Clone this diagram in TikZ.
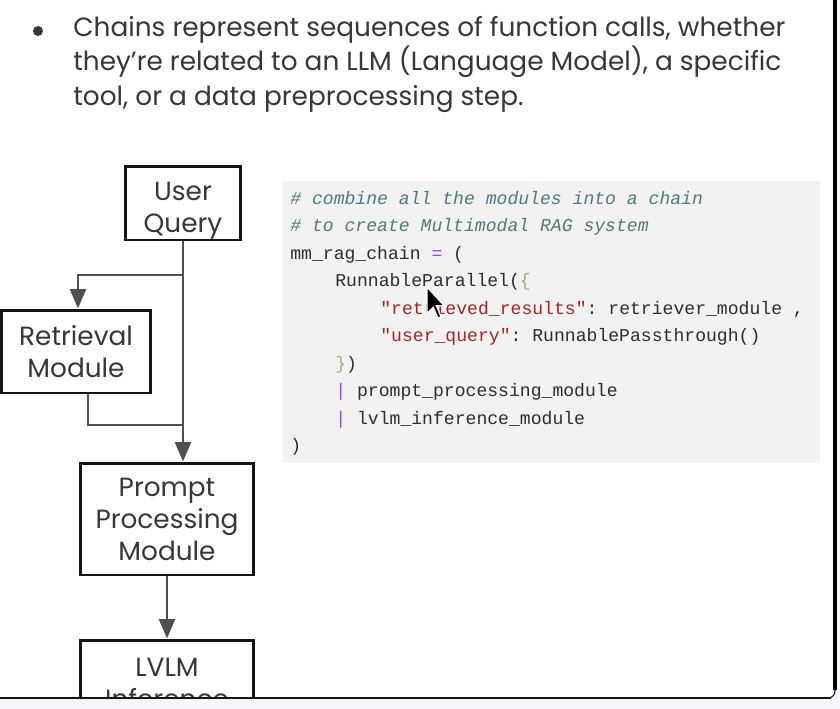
\documentclass[tikz,border=0pt]{standalone}
\usepackage{fontspec}
\setmainfont{Poppins}
\setmonofont{Liberation Mono}
\usetikzlibrary{arrows.meta,positioning,calc}
\definecolor{figline}{RGB}{20,20,20}
\definecolor{figconn}{RGB}{80,80,80}
\definecolor{figtext}{RGB}{55,55,55}
\definecolor{codebg}{RGB}{242,242,242}
\definecolor{codetxt}{RGB}{45,45,45}
\definecolor{codecom}{RGB}{80,122,122}
\definecolor{codestr}{RGB}{168,36,36}
\definecolor{codeop}{RGB}{150,70,225}
\definecolor{codebr}{RGB}{175,165,125}
\definecolor{strip}{RGB}{244,246,250}
\newcommand{\boxstrut}{\rule{0pt}{1.25em}}
\tikzset{
  box/.style  ={draw=figline, line width=1.7pt, fill=white, align=center,
                text=figtext, font=\fontsize{15pt}{18.2pt}\selectfont, inner sep=0pt},
  conn/.style ={draw=figconn, line width=1.6pt},
  tip/.style  ={-{Triangle[length=11pt,width=9pt]}},
  head/.style ={anchor=base west, inner sep=0pt, text=figtext,
                font=\fontsize{15pt}{19.6pt}\selectfont},
  code/.style ={anchor=base west, inner sep=0pt, text=codetxt,
                font=\ttfamily\fontsize{10.3pt}{12pt}\selectfont},
  com/.style  ={code, text=codecom, font=\ttfamily\itshape\fontsize{10.3pt}{12pt}\selectfont},
}

\begin{document}
\begin{tikzpicture}[x=0.02cm,y=-0.02cm]
  \useasboundingbox (0,0) rectangle (840,708);
  % window frame
  \fill[strip] (0,0) rectangle (840,708);
  \fill[white,rounded corners=4pt] (-10,-10) rectangle (835,698);
  \draw[figline,line width=0.6pt,rounded corners=4pt] (-10,698) -| (835,-10);
  \draw[black,line width=2.6pt] (835,-10) -- (835,690);
  % bullet text
  \fill[figtext] (38,31) circle (5);
  \node[head] (head1) at (73,36)  {Chains represent sequences of function calls, whether};
  \node[head] (head2) at (73,70.5) {they’re related to an LLM (Language Model), a specific};
  \node[head] (head3) at (73,105) {tool, or a data preprocessing step.};
  % code block
  \fill[codebg] (283,181) rectangle (820,463);
  \node[com]  (c1) at (290,204)   {\# combine all the modules into a chain};
  \node[com]  (c2) at (290,231.5) {\# to create Multimodal RAG system};
  \node[code] (c3) at (290,259)   {mm\_rag\_chain \textcolor{codeop}{=} (};
  \node[code] (c4) at (335,286.5) {RunnableParallel(\textcolor{codebr}{\{}};
  \node[code] (c5) at (380,314)   {\textcolor{codestr}{"retrieved\_results"}: retriever\_module ,};
  \node[code] (c6) at (380,341.5) {\textcolor{codestr}{"user\_query"}: RunnablePassthrough()};
  \node[code] (c7) at (335,369)   {\textcolor{codebr}{\}})};
  \node[code] (c8) at (335,396.5) {\textcolor{codeop}{|} prompt\_processing\_module};
  \node[code] (c9) at (335,424)   {\textcolor{codeop}{|} lvlm\_inference\_module};
  \node[code] (c10) at (290,451.5) {)};
  % mouse pointer
  \filldraw[fill=black,draw=white,line width=0.7pt,shift={(427,287)},scale=1.3]
    (0,0) -- (0,20.4) -- (4.8,15.6) -- (8.4,24) -- (10.8,22.8) -- (7.2,14.4) -- (13.2,14.4) -- cycle;
  % flow chart
  \node[box,minimum width=2.32cm,minimum height=1.48cm] (query) at (183,203) {\boxstrut User\\Query};
  \node[box,minimum width=3.0cm,minimum height=1.66cm] (retr) at (76,351.5) {Retrieval\\Module};
  \node[box,minimum width=3.48cm,minimum height=2.24cm] (prompt) at (167,519) {Prompt\\Processing\\Module};
  \node[box,minimum width=3.48cm,minimum height=1.72cm] (lvlm) at (167,683) {LVLM\\Inference};
  \coordinate (split) at (183,275);
  \coordinate (merge) at (183,425);
  \draw[conn,tip] (query.south) -- (query.south |- prompt.north);
  \draw[conn,tip] (split) -| ([xshift=0.04cm]retr.north);
  \draw[conn] ([xshift=0.24cm]retr.south) |- (merge);
  \draw[conn,tip] (prompt.south) -- (lvlm.north);
  % bottom edge of the window
  \fill[strip] (-10,698.4) rectangle (840,720);
  \draw[figline,line width=0.6pt] (-10,698) -- (831,698);
\end{tikzpicture}
\end{document}
